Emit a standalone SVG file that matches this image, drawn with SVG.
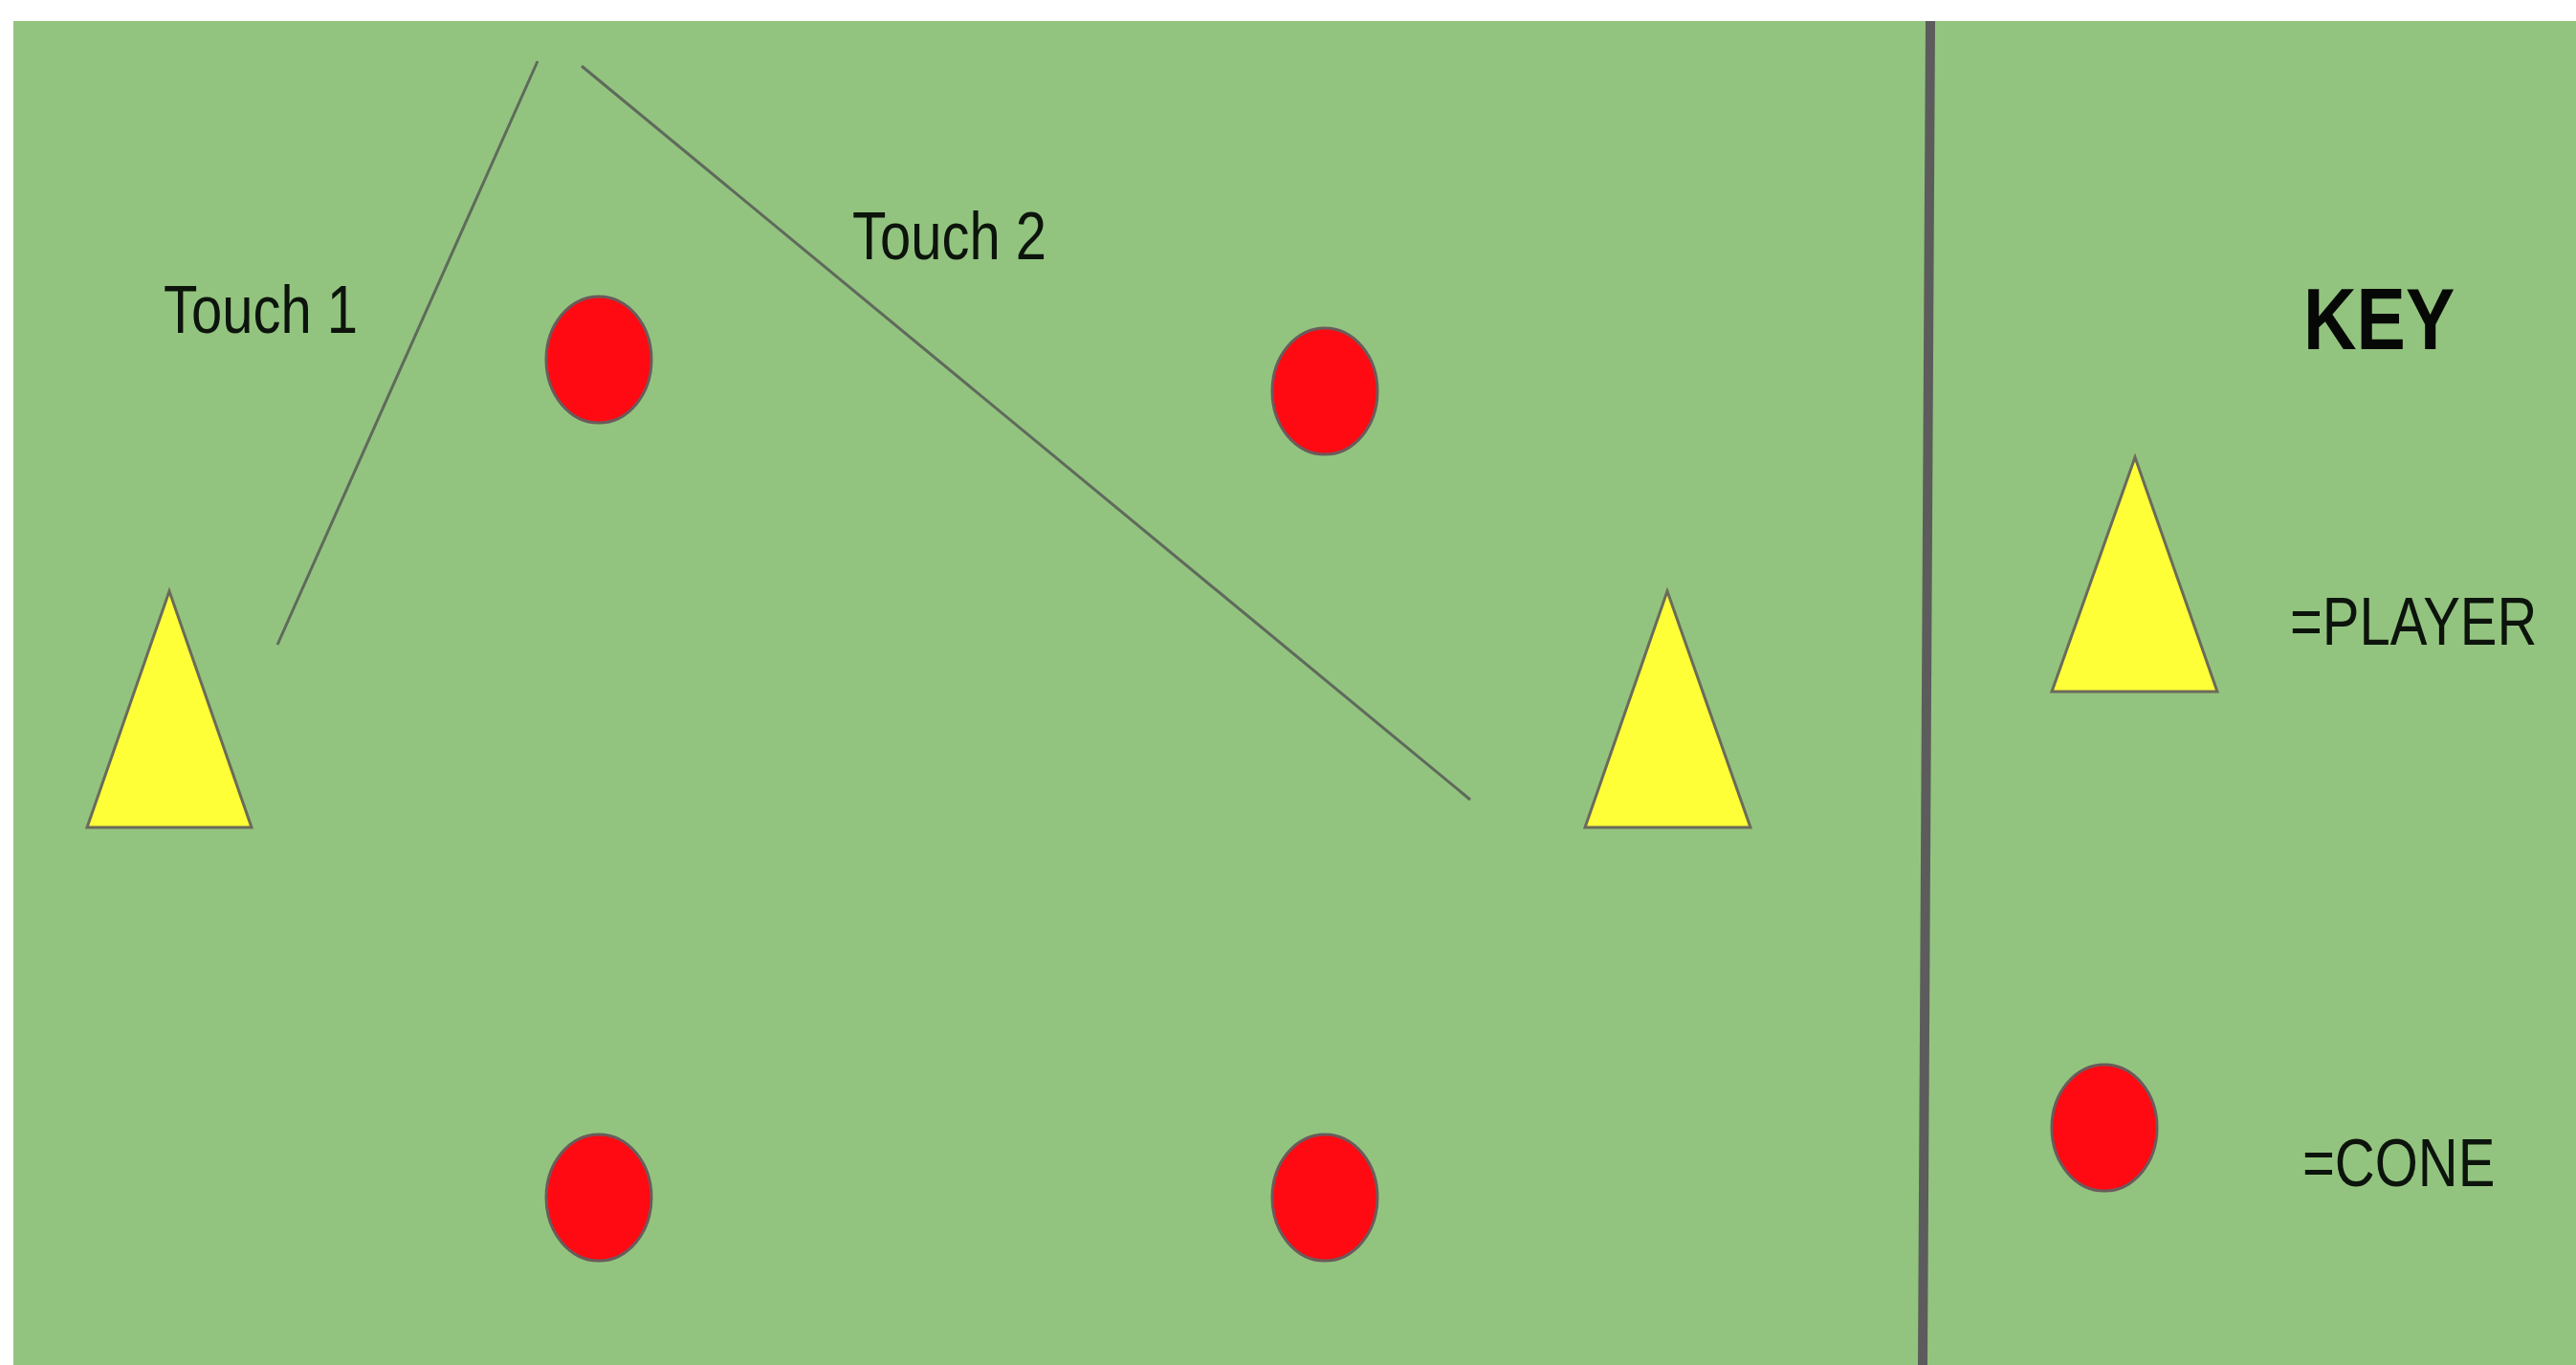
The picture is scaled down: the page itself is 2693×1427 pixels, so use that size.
<svg xmlns="http://www.w3.org/2000/svg" width="2693" height="1427" viewBox="0 0 2693 1427">
  <style>
    .player { fill: #ffff38; stroke: #6b6b5a; stroke-width: 3; stroke-linejoin: miter; }
    .cone { fill: #ff0a12; stroke: #6b5b5b; stroke-width: 3; }
    .path { stroke: #5f6a5c; stroke-width: 3; fill: none; }
    .lbl { font-family: "Liberation Sans", Arial, sans-serif; font-size: 58px; fill: #0c140c; }
    .key { font-family: "Liberation Sans", Arial, sans-serif; font-size: 77px; font-weight: bold; fill: #050805; }
  </style>
  <rect x="0" y="0" width="2693" height="1427" fill="#ffffff"/>
  <rect id="field" x="14" y="22" width="2679" height="1405" fill="#93c47f"/>
  <line id="divider" x1="2018" y1="22" x2="2010" y2="1427" stroke="#5c5c5c" stroke-width="10"/>

  <g id="connectors">
    <line id="touch1-line" class="path" x1="562" y1="64" x2="290" y2="674"/>
    <line id="touch2-line" class="path" x1="608" y1="69" x2="1537" y2="836"/>
  </g>

  <g id="player-left"><polygon class="player" points="177,618 91,865 263,865"/></g>
  <g id="player-right"><polygon class="player" points="1743,618 1657,865 1830,865"/></g>

  <g id="cone-top-left"><ellipse class="cone" cx="626" cy="376" rx="55" ry="66"/></g>
  <g id="cone-top-right"><ellipse class="cone" cx="1385" cy="409" rx="55" ry="66"/></g>
  <g id="cone-bottom-left"><ellipse class="cone" cx="626" cy="1252" rx="55" ry="66"/></g>
  <g id="cone-bottom-right"><ellipse class="cone" cx="1385" cy="1252" rx="55" ry="66"/></g>

  <g id="label-touch1"><text class="lbl" transform="translate(171,348) scale(1,1.2)">Touch 1</text></g>
  <g id="label-touch2"><text class="lbl" transform="translate(891,271) scale(1,1.2)">Touch 2</text></g>

  <g id="key">
    <text class="key" transform="translate(2408,365) scale(1,1.18)">KEY</text>
    <g id="key-player">
      <polygon class="player" points="2232,478 2145,723 2318,723"/>
      <text class="lbl" transform="translate(2394,674) scale(1,1.2)">=PLAYER</text>
    </g>
    <g id="key-cone">
      <ellipse class="cone" cx="2200" cy="1179" rx="55" ry="66"/>
      <text class="lbl" transform="translate(2407,1240) scale(1,1.2)">=CONE</text>
    </g>
  </g>
</svg>
